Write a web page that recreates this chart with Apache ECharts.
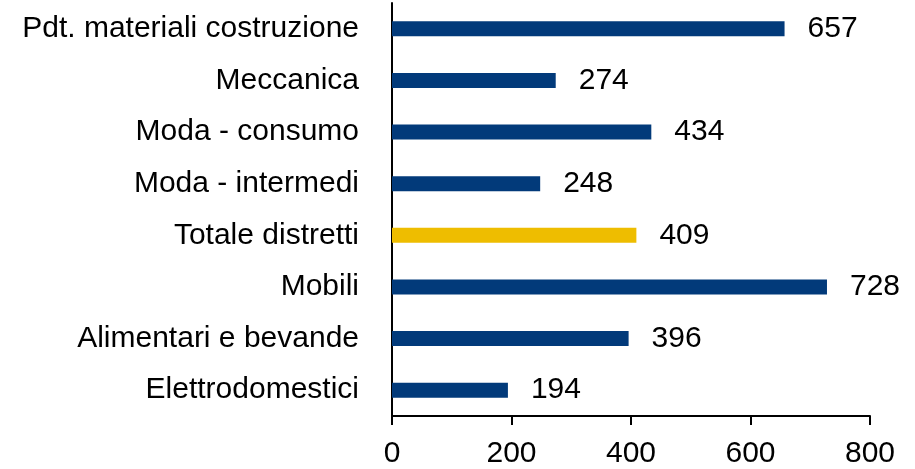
<!DOCTYPE html>
<html>
<head>
<meta charset="utf-8">
<script src="https://cdn.jsdelivr.net/npm/echarts@6/dist/echarts.min.js"></script>
<style>
  html, body { margin: 0; padding: 0; background: #fff; }
  #chart { width: 915px; height: 469px; }
</style>
</head>
<body>
<div id="chart"></div>
<script>
  // categories listed bottom to top (category axis starts at the bottom)
  const categories = ['Elettrodomestici', 'Alimentari e bevande', 'Mobili', 'Totale distretti',
    'Moda - intermedi', 'Moda - consumo', 'Meccanica', 'Pdt. materiali costruzione'];
  const values = [194, 396, 728, 409, 248, 434, 274, 657];
  const highlight = 'Totale distretti';
  const xTicks = [0, 200, 400, 600, 800];

  const navy = '#023a7a';
  const gold = '#eebd00';

  const chart = echarts.init(document.getElementById('chart'));
  chart.setOption({
    animation: false,
    textStyle: { fontFamily: 'Liberation Sans, Arial, sans-serif' },
    grid: { left: 392, right: 45, top: 3, bottom: 53 },
    xAxis: {
      type: 'value',
      min: xTicks[0],
      max: xTicks[xTicks.length - 1],
      interval: 200,
      splitLine: { show: false },
      axisLine: { show: true, lineStyle: { color: '#000', width: 2 } },
      axisTick: { show: true, length: 9, lineStyle: { color: '#000', width: 2 } },
      axisLabel: { color: '#000', fontSize: 30, margin: 23 }
    },
    yAxis: {
      type: 'category',
      data: categories,
      axisLine: { show: true, lineStyle: { color: '#000', width: 2 } },
      axisTick: { show: false },
      axisLabel: { color: '#000', fontSize: 30, margin: 33 }
    },
    series: [{
      type: 'bar',
      barWidth: 15,
      data: values.map((v, i) => ({
        value: v,
        itemStyle: { color: categories[i] === highlight ? gold : navy }
      })),
      label: {
        show: true,
        position: 'right',
        distance: 23,
        color: '#000',
        fontSize: 30
      }
    }]
  });
</script>
</body>
</html>
